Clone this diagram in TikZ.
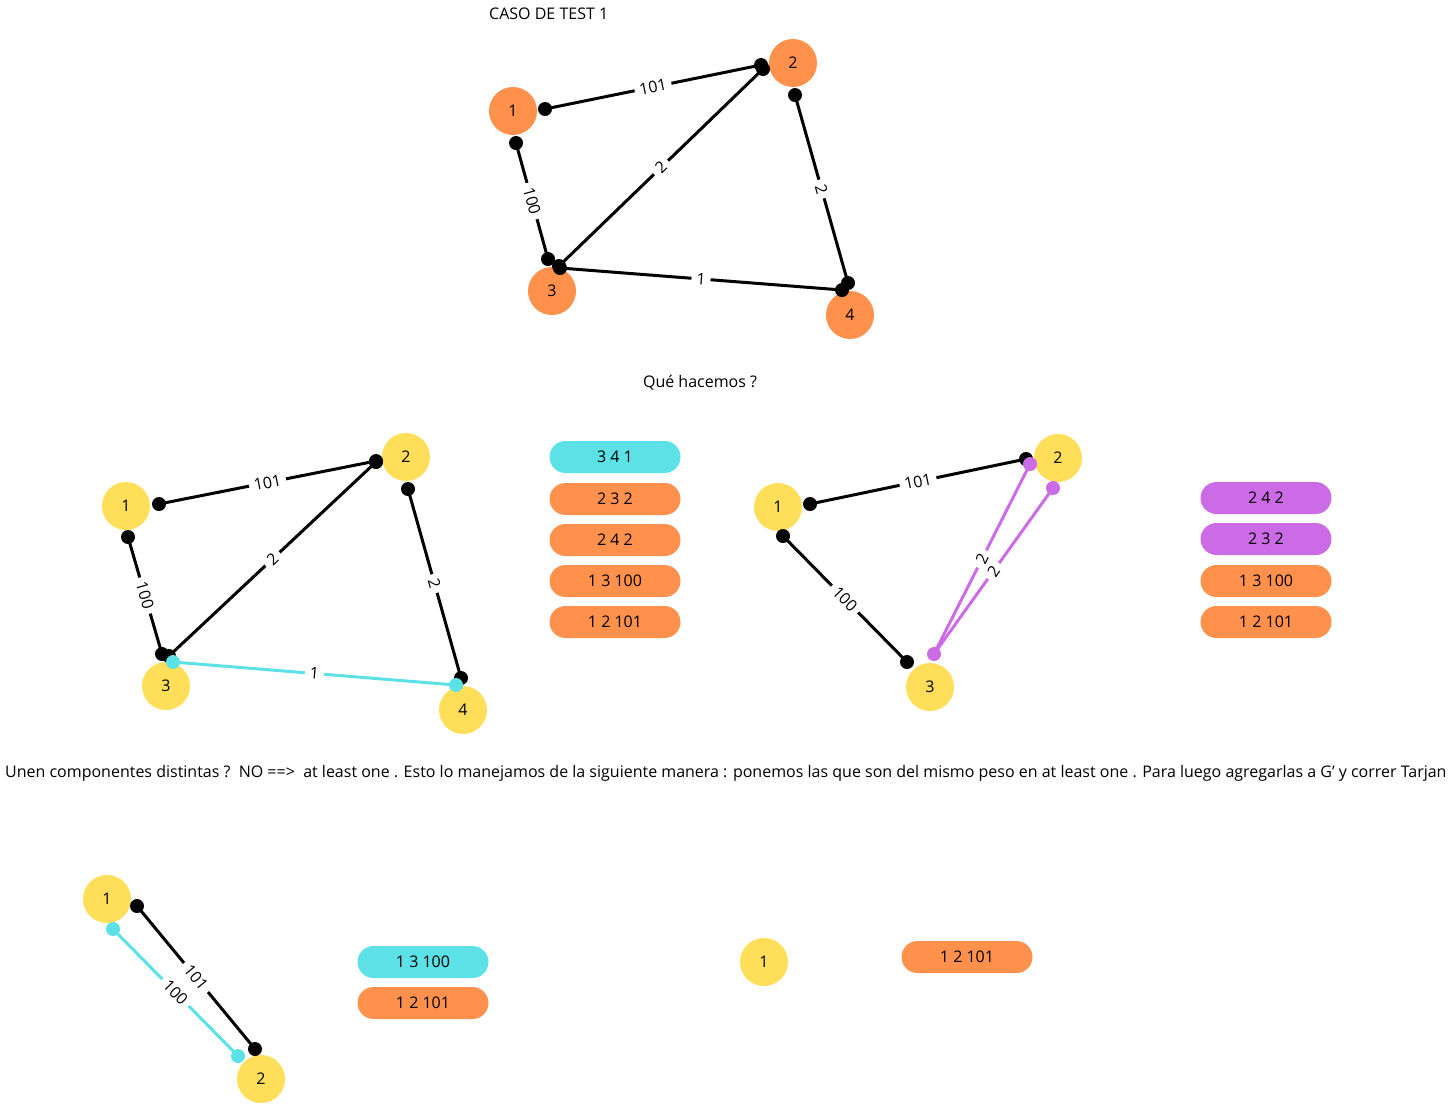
\documentclass[tikz,border=0pt]{standalone}
\usepackage{fontspec}
\setmainfont{Open Sans}
\definecolor{corange}{HTML}{FF914D}
\definecolor{cyellow}{HTML}{FFDE59}
\definecolor{ccyan}{HTML}{5CE1E6}
\definecolor{cpurple}{HTML}{CB6CE6}
\newcommand{\fs}{\fontsize{16}{19}\selectfont}
\tikzset{
  vert/.style={circle, minimum size=48pt, inner sep=0pt, font=\fs},
  ov/.style={vert, fill=corange},
  yv/.style={vert, fill=cyellow},
  dotb/.style={circle, fill=black, minimum size=14pt, inner sep=0pt},
  dotc/.style={circle, fill=ccyan, minimum size=14pt, inner sep=0pt},
  dotp/.style={circle, fill=cpurple, minimum size=14pt, inner sep=0pt},
  edgeb/.style={line width=3pt, black},
  edgec/.style={line width=3pt, ccyan},
  edgep/.style={line width=3pt, cpurple},
  lbl/.style={sloped, fill=white, inner xsep=5pt, inner ysep=0.5pt, font=\fs, text=black},
  pill/.style={rounded corners=16pt, minimum width=131pt, minimum height=32pt, inner sep=0pt, font=\fs},
  txt/.style={font=\fs, inner sep=0pt},
}
\begin{document}
\begin{tikzpicture}[x=1pt,y=-1pt]
\useasboundingbox (0,0) rectangle (1450,1104);
\node[txt, anchor=west] (title) at (489,14) {CASO DE TEST 1};
% ---------- top graph ----------
\node[ov] (t1) at (513,111) {1};
\node[ov] (t2) at (793,63) {2};
\node[ov] (t3) at (552,291) {3};
\node[ov] (t4) at (850,315) {4};
\coordinate (ta12) at (545,109);
\coordinate (tb12) at (761,65);
\coordinate (ta13) at (516,143);
\coordinate (tb13) at (548,259);
\coordinate (ta23) at (763,69);
\coordinate (tb23) at (559,266);
\coordinate (ta24) at (795,95);
\coordinate (tb24) at (848,283);
\coordinate (ta34) at (560,268);
\coordinate (tb34) at (842,290);
\draw[edgeb] (ta12) -- node[lbl]{101} (tb12);
\draw[edgeb] (ta13) -- node[lbl]{100} (tb13);
\draw[edgeb] (ta23) -- node[lbl]{2} (tb23);
\draw[edgeb] (ta24) -- node[lbl]{2} (tb24);
\draw[edgeb] (ta34) -- node[lbl]{1} (tb34);
\foreach \p in {ta12,tb12,ta13,tb13,ta23,tb23,ta24,tb24,ta34,tb34}
  \node[dotb] at (\p) {};
\node[txt] (q) at (700,383) {Qué hacemos ?};
% ---------- middle left graph ----------
\node[yv] (m1) at (126,506) {1};
\node[yv] (m2) at (406,457) {2};
\node[yv] (m3) at (166,686) {3};
\node[yv] (m4) at (463,710) {4};
\coordinate (ma12) at (159,504);
\coordinate (mb12) at (376,461);
\coordinate (ma13) at (128,537);
\coordinate (mb13) at (162,654);
\coordinate (ma23) at (376,462);
\coordinate (mb23) at (169,656);
\coordinate (ma24) at (408,489);
\coordinate (mb24) at (461,678);
\coordinate (ma34) at (173,662);
\coordinate (mb34) at (456,685);
\draw[edgeb] (ma12) -- node[lbl]{101} (mb12);
\draw[edgeb] (ma13) -- node[lbl]{100} (mb13);
\draw[edgeb] (ma23) -- node[lbl]{2} (mb23);
\draw[edgeb] (ma24) -- node[lbl]{2} (mb24);
\foreach \p in {ma12,mb12,ma13,mb13,ma23,mb23,ma24,mb24}
  \node[dotb] at (\p) {};
\draw[edgec] (ma34) -- node[lbl]{1} (mb34);
\node[dotc] at (ma34) {};
\node[dotc] at (mb34) {};
% pills middle
\node[pill, fill=ccyan]   (p1) at (615,457) {3 4 1};
\node[pill, fill=corange] (p2) at (615,499) {2 3 2};
\node[pill, fill=corange] (p3) at (615,540) {2 4 2};
\node[pill, fill=corange] (p4) at (615,581) {1 3 100};
\node[pill, fill=corange] (p5) at (615,622) {1 2 101};
% ---------- middle right graph ----------
\node[yv] (r1) at (778,507) {1};
\node[yv] (r2) at (1058,458) {2};
\node[yv] (r3) at (930,687) {3};
\coordinate (ra12) at (810,504);
\coordinate (rb12) at (1026,459);
\coordinate (ra13) at (783,536);
\coordinate (rb13) at (907,662);
\coordinate (rp1) at (1030,464);
\coordinate (rp2) at (1053,488);
\coordinate (rp3) at (934,654);
\draw[edgeb] (ra12) -- node[lbl]{101} (rb12);
\draw[edgeb] (ra13) -- node[lbl]{100} (rb13);
\foreach \p in {ra12,rb12,ra13,rb13}
  \node[dotb] at (\p) {};
\draw[edgep] (rp1) -- node[lbl]{2} (rp3);
\draw[edgep] (rp2) -- node[lbl]{2} (rp3);
\foreach \p in {rp1,rp2,rp3}
  \node[dotp] at (\p) {};
\node[pill, fill=cpurple] (s1) at (1266,498) {2 4 2};
\node[pill, fill=cpurple] (s2) at (1266,539) {2 3 2};
\node[pill, fill=corange] (s3) at (1266,581) {1 3 100};
\node[pill, fill=corange] (s4) at (1266,622) {1 2 101};
% ---------- long text ----------
\node[txt, anchor=west] (long) at (5,773) {Unen componentes distintas ?\ \ NO ==>\ \ at least one . Esto lo manejamos de la siguiente manera : ponemos las que son del mismo peso en at least one . Para luego agregarlas a G’ y correr Tarjan};
% ---------- bottom graph ----------
\node[yv] (b1) at (107,899) {1};
\node[yv] (b2) at (261,1079) {2};
\coordinate (ba) at (137,906);
\coordinate (bb) at (255,1049);
\coordinate (bc) at (113,929);
\coordinate (bd) at (238,1056);
\draw[edgeb] (ba) -- node[lbl]{101} (bb);
\draw[edgec] (bc) -- node[lbl]{100} (bd);
\node[dotb] at (ba) {};
\node[dotb] at (bb) {};
\node[dotc] at (bc) {};
\node[dotc] at (bd) {};
\node[pill, fill=ccyan]   (u1) at (423,962) {1 3 100};
\node[pill, fill=corange] (u2) at (423,1003) {1 2 101};
\node[yv] (c1) at (764,962) {1};
\node[pill, fill=corange] (w1) at (967,957) {1 2 101};
\end{tikzpicture}
\end{document}
